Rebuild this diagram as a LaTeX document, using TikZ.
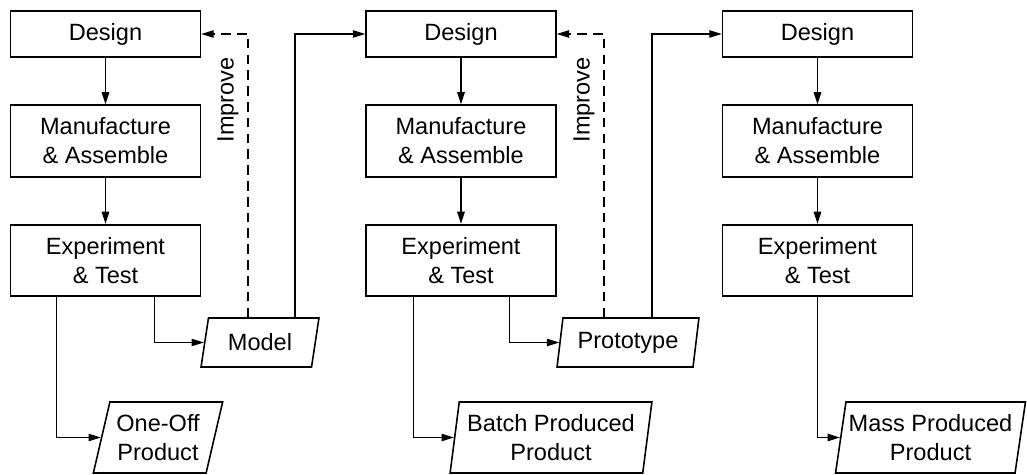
\documentclass[tikz,border=0pt]{standalone}
\usepackage{fontspec}
\setmainfont{Liberation Sans}
\usetikzlibrary{shapes.geometric,arrows.meta,calc}

\begin{document}
\begin{tikzpicture}[x=0.02cm, y=-0.02cm,
  font=\fontsize{13.4}{16.4}\selectfont,
  stage/.style={draw, line width=0.9pt, rectangle, inner sep=0pt,
    minimum width=3.8cm, align=center},
  design/.style={stage, minimum height=0.92cm},
  tall/.style={stage, minimum height=1.43cm},
  io/.style 2 args={draw, line width=0.9pt, trapezium, trapezium stretches=true,
    trapezium left angle=#1, trapezium right angle=#2,
    inner sep=0.5pt, align=center},
  tip/.style={-{Triangle[length=7pt,width=4.2pt]}},
  flow/.style={tip, line width=1.1pt},
  link/.style={tip, line width=0.6pt},
  back/.style={link, dash pattern=on 5.5pt off 3.5pt}]

\useasboundingbox (0,0) rectangle (1027,475);

% three design cycles
\node[design] (d1) at (105.5,34)  {Design};
\node[tall]   (m1) at (105.5,141) {Manufacture\\\& Assemble};
\node[tall]   (e1) at (105.5,260.5) {Experiment\\\& Test};

\node[design] (d2) at (461,34)  {Design};
\node[tall]   (m2) at (461,141) {Manufacture\\\& Assemble};
\node[tall]   (e2) at (461,260.5) {Experiment\\\& Test};

\node[design] (d3) at (817.5,34)  {Design};
\node[tall]   (m3) at (817.5,141) {Manufacture\\\& Assemble};
\node[tall]   (e3) at (817.5,260.5) {Experiment\\\& Test};

% outputs
\node[io={76}{104}, minimum width=2.36cm, minimum height=0.98cm] (model) at (260,342.5) {Model};
\node[io={78.5}{101.5}, minimum width=2.84cm, minimum height=0.98cm] (proto) at (628,342.5) {Prototype};
\node[io={73}{107}, minimum width=2.6cm, minimum height=1.42cm] (oneoff) at (158,437.5) {One-Off\\Product};
\node[io={80}{100}, minimum width=4.04cm, minimum height=1.42cm] (batch) at (551,437.5) {Batch Produced\\Product};
\node[io={78}{102}, minimum width=3.8cm, minimum height=1.42cm] (mass) at (930.5,437.5) {Mass Produced\\Product};

% feedback labels
\node[rotate=90] (imp1) at (228,100) {Improve};
\node[rotate=90] (imp2) at (584,100) {Improve};

% stage to stage
\draw[flow] (d1) -- (m1);
\draw[flow] (m1) -- (e1);
\draw[flow] (d2) -- (m2);
\draw[flow] (m2) -- (e2);
\draw[flow] (d3) -- (m3);
\draw[flow] (m3) -- (e3);

% results
\draw[link] ($(e1.south west)+(47,0)$) |- (oneoff);
\draw[link] ($(e1.south east)+(-47,0)$) |- (model);
\draw[link] ($(e2.south west)+(48,0)$) |- (batch);
\draw[link] ($(e2.south east)+(-47,0)$) |- (proto);
\draw[link] (e3.south) |- (mass);

% improvement loops and next cycles
\draw[back] ($(model.north)+(-12,0)$) |- (d1);
\draw[link] ($(model.north)+(35,0)$) |- (d2);
\draw[back] ($(proto.north)+(-24,0)$) |- (d2);
\draw[link] ($(proto.north)+(24,0)$) |- (d3);
\end{tikzpicture}
\end{document}
